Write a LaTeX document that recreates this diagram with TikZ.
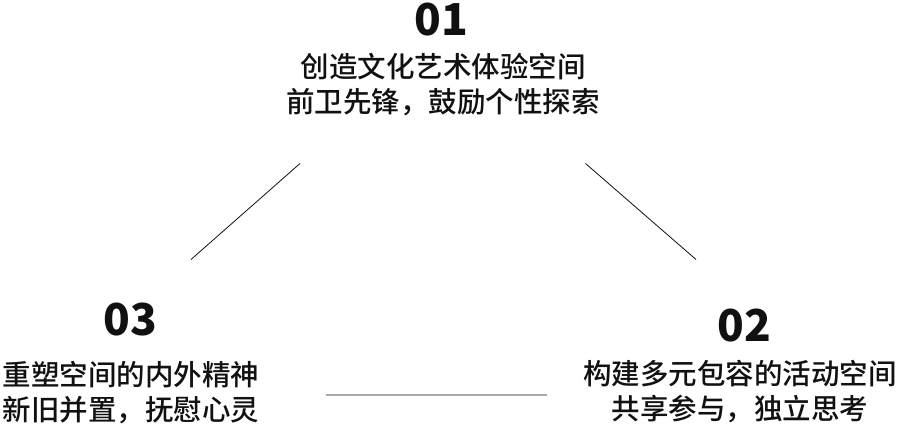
\documentclass[tikz,border=0pt]{standalone}
\usepackage{fontspec}
\newfontfamily\cjk{Noto Sans CJK SC Medium}
\newfontfamily\cjkbold{Noto Sans CJK SC Black}
\definecolor{ink}{HTML}{111111}
\definecolor{rule}{HTML}{AAAAAA}
\begin{document}
\begin{tikzpicture}[x=1pt,y=-1pt,
  num/.style={inner sep=0pt, text=ink, font={\cjkbold\fontsize{44}{48}\selectfont}},
  body/.style={inner sep=0pt, align=center, text=ink, font={\cjk\fontsize{28.5}{35}\selectfont}},
  diag/.style={draw=ink, line width=0.8pt},
  hrule/.style={draw=rule, line width=1.6pt}]
\useasboundingbox (0,0) rectangle (900,427);
\fill[white] (0,0) rectangle (900,427);

\node[num] (n1) at (441,19.5) {01};
\node[body] (t1) at (443,85) {创造文化艺术体验空间\\前卫先锋，鼓励个性探索};

\node[num] (n3) at (130.5,320) {03};
\node[body] (t3) at (131,392.5) {重塑空间的内外精神\\新旧并置，抚慰心灵};

\node[num] (n2) at (744,326) {02};
\node[body] (t2) at (740,392) {构建多元包容的活动空间\\共享参与，独立思考};

\coordinate (la) at (300,163.5);
\coordinate (lb) at (191,259.5);
\coordinate (ra) at (585.5,163.5);
\coordinate (rb) at (696,259.5);
\coordinate (ha) at (326,395);
\coordinate (hb) at (547,395);

\draw[diag] (la) -- (lb);
\draw[diag] (ra) -- (rb);
\draw[hrule] (ha) -- (hb);
\end{tikzpicture}
\end{document}
